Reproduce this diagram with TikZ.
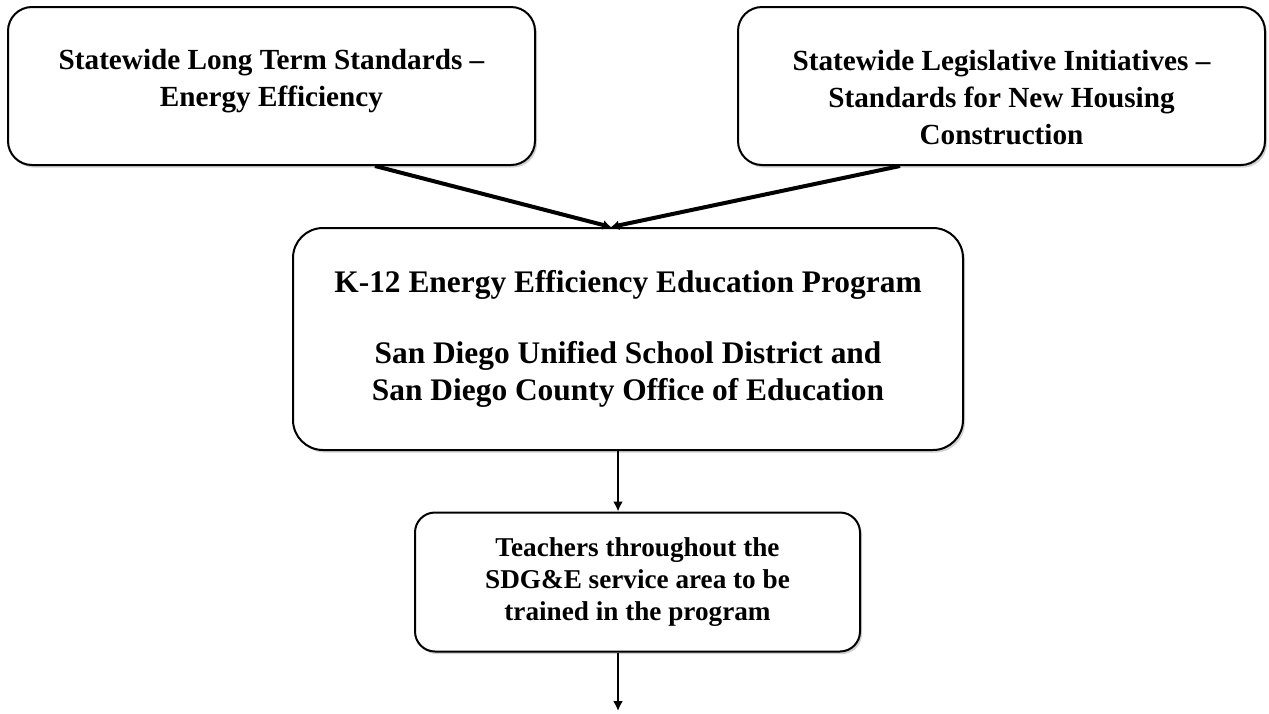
\documentclass[tikz,border=0pt]{standalone}
\usepackage{fontspec}
\setmainfont{Liberation Serif}
\usetikzlibrary{arrows.meta,shadows}

\tikzstyle{box}=[draw, line width=1pt, rounded corners=12pt, align=center, font=\bfseries\fontsize{14.6}{18.5}\selectfont, fill=white, drop shadow={shadow xshift=1pt, shadow yshift=-1.3pt, fill=black!35}]
\tikzstyle{arrow}=[line width=1pt, -{Latex[length=5pt,width=5pt]}]
\tikzstyle{fatarrow}=[line width=2pt, -{Latex[length=4pt,width=5pt]}]

\begin{document}
\begin{tikzpicture}[x=0.5pt, y=-0.5pt]
      \useasboundingbox (0,0) rectangle (1269,713);

      \node[box, minimum width=263.5pt, minimum height=79pt] (std) at (271.5, 86) {Statewide Long Term Standards --\\Energy Efficiency\\[-10.5pt]};
      \node[box, minimum width=263.5pt, minimum height=79pt] (leg) at (1001.5, 86) {\mbox{}\\[3.5pt]Statewide Legislative Initiatives --\\Standards for New Housing\\Construction};
      \node[box, minimum width=335pt, minimum height=111pt, rounded corners=15pt, font=\bfseries\fontsize{15.7}{18.5}\selectfont] (prog) at (628, 339) {K-12 Energy Efficiency Education Program\\[17pt]San Diego Unified School District and\\San Diego County Office of Education};
      \node[box, minimum width=222.5pt, minimum height=69.5pt, rounded corners=10pt, font=\bfseries\fontsize{13.6}{16}\selectfont] (teach) at (637.5, 582) {Teachers throughout the\\SDG\&E service area to be\\trained in the program};
      \coordinate (out) at (618, 711);

      \draw[fatarrow] ([xshift=51.75pt]std.south) to ([xshift=-8.5pt]prog.north);
      \draw[fatarrow] ([xshift=-50.75pt]leg.south) to ([xshift=-8.5pt]prog.north);
      \draw[arrow] (prog.south -| out) to (teach.north -| out);
      \draw[arrow] (teach.south -| out) to (out);
    \end{tikzpicture}
\end{document}
